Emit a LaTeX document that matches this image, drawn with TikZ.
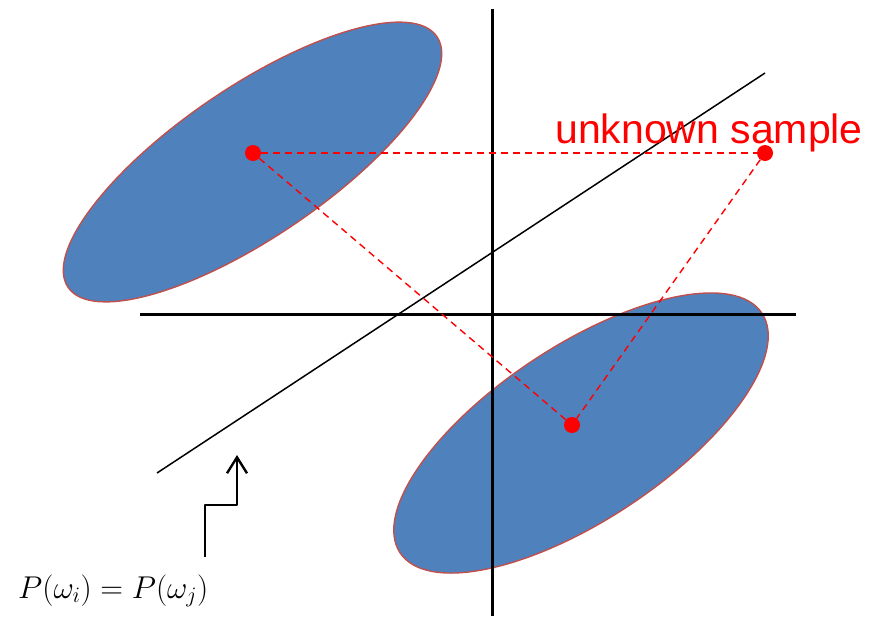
\RequirePackage{fix-cm}
\documentclass[tikz,border=0pt]{standalone}
\usepackage{fontspec}
\usetikzlibrary{arrows.meta}
\newfontfamily\labelfont{Liberation Sans}
\definecolor{eblue}{HTML}{4F81BD}
\definecolor{ered}{HTML}{C0504D}
\definecolor{sred}{HTML}{FF0000}

\begin{document}
\begin{tikzpicture}[x=1pt, y=-1pt, line join=round,
  dot/.style={circle, fill=sred, inner sep=0pt, minimum size=16pt},
  link/.style={sred, line width=1.4pt, dash pattern=on 7pt off 5pt},
  cloud/.style={fill=eblue, draw=ered, line width=1.4pt},
  axis/.style={line width=3pt}]
  \useasboundingbox (0,0) rectangle (869,616);
  % ---------- the two classes ----------
  \draw[cloud, rotate around={34.2:(252.5,162)}] (252.5,162) ellipse [x radius=223, y radius=75];
  \draw[cloud, rotate around={33.5:(581,433)}] (581,433) ellipse [x radius=217, y radius=87];
  % ---------- axes and boundary ----------
  \draw[axis] (492,9) -- (492,616);
  \draw[axis] (140,314) -- (796,314);
  \draw[line width=1.5pt] (157,473) -- (765,73);
  % ---------- means and the sample ----------
  \node[dot] (mi) at (253,153) {};
  \node[dot] (mj) at (572,425) {};
  \node[dot] (xs) at (765,153) {};
  \draw[link] (mi) -- (xs);
  \draw[link] (mi) -- (mj);
  \draw[link] (xs) -- (mj);
  \node[sred, anchor=base west, inner sep=0pt, font=\labelfont\fontsize{41}{48}\selectfont]
    (lab) at (555,143) {unknown sample};
  % ---------- boundary label ----------
  \node[anchor=base west, inner sep=0pt, font=\fontsize{31.5}{36}\selectfont]
    (eq) at (18,598) {$P(\omega_i)=P(\omega_j)$};
  \coordinate (eqtop) at (205,557);
  \coordinate (bend) at (237,505);
  \coordinate (tip) at (237,455);
  \draw[line width=2.4pt, -{Straight Barb[length=16pt,width=20pt]}] (eqtop) |- (bend) -- (tip);
\end{tikzpicture}
\end{document}
